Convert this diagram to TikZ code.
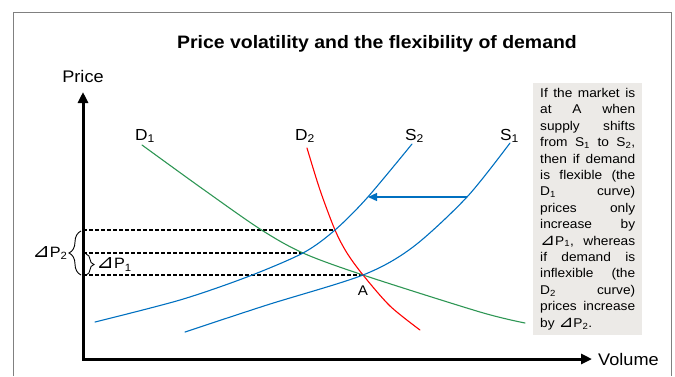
\documentclass[tikz,border=0pt]{standalone}
\usepackage{fontspec}
\setmainfont{Liberation Sans}[FakeStretch=1.08]
\newfontfamily\trifont{DejaVu Sans}[FakeStretch=1.08]
\usetikzlibrary{arrows.meta,calc,decorations.pathreplacing}
\definecolor{supplyblue}{RGB}{0,112,192}
\definecolor{demandgreen}{RGB}{46,150,84}
\definecolor{notegrey}{RGB}{236,234,231}
\newcommand{\dP}{\scalebox{1.3}{\trifont ⊿}P}
\newcommand{\jline}[1]{\makebox[95pt][s]{#1}}

\begin{document}
\begin{tikzpicture}[x=1pt, y=-1pt, >={Triangle[length=11pt,width=10pt]},
    curve/.style={line width=1.1pt, line cap=round},
    guide/.style={line width=1.2pt, dash pattern=on 4pt off 2pt},
    axis/.style={line width=3pt},
    bracelbl/.style={font=\fontsize{15}{18}\selectfont, inner sep=0pt},
    curvelbl/.style={font=\fontsize{16}{19}\selectfont, inner sep=0pt, anchor=base west},
    note/.style={fill=notegrey, inner xsep=7pt, inner ysep=5pt, align=left,
        font=\fontsize{12.7}{16.4}\selectfont}]
    \useasboundingbox (0,0) rectangle (675,376);
    \draw[gray, line width=0.8pt] (13,376) -- (13,12) -- (671,12) -- (671,376);
    \node[font=\bfseries\fontsize{18}{21}\selectfont, anchor=base] (title) at (377,48)
        {Price volatility and the flexibility of demand};

    % Achsen
    \coordinate (O) at (83,359);
    \coordinate (ytop) at (83,92);
    \coordinate (xend) at (592,359);
    \draw[axis, <->] (ytop) -- (O) -- (xend);
    \node[font=\fontsize{16.8}{20}\selectfont, anchor=base] (price) at (83,82) {Price};
    \node[font=\fontsize{16.8}{20}\selectfont, anchor=base west, inner sep=0pt] (volume) at (598,365) {Volume};

    % Schnittpunkte
    \coordinate (A) at (363,275);
    \coordinate (B) at (303,253);
    \coordinate (C) at (335,230);
    \draw[guide] (A -| O) -- (A);
    \draw[guide] (B -| O) -- (B);
    \draw[guide] (C -| O) -- (C);

    % Kurven
    \draw[curve, demandgreen] plot[smooth] coordinates
        {(142,145) (200,187) (260,229) (B) (A) (480,312) (525,323)};
    \draw[curve, red] plot[smooth] coordinates
        {(307,148) (320,190) (C) (347,253) (A) (390,306) (420,330)};
    \draw[curve, supplyblue] plot[smooth] coordinates
        {(95,322) (180,300) (247,277) (B) (C) (367,198) (412,144)};
    \draw[curve, supplyblue] plot[smooth] coordinates
        {(185,332) (267,305) (A) (413,247) (467,197) (510,143)};
    \coordinate (s1mid) at (467,197);
    \coordinate (s2mid) at (368,197);
    \draw[supplyblue, line width=1.3pt, -{Triangle[length=9pt,width=8pt]}] (s1mid) -- (s2mid);

    \node[curvelbl] (d1) at (135,140) {D\textsubscript{1}};
    \node[curvelbl] (d2) at (295,140) {D\textsubscript{2}};
    \node[curvelbl] (s2) at (405,140) {S\textsubscript{2}};
    \node[curvelbl] (s1) at (500,140) {S\textsubscript{1}};
    \node[font=\fontsize{14}{17}\selectfont, anchor=base, inner sep=0pt] (a) at (363,295) {A};

    % Preisaenderungen
    \draw[line width=0.9pt, decorate, decoration={brace, amplitude=12pt}] ($(O |- A)+(-2,0)$) -- ($(O |- C)+(-2,1)$)
        node[midway, left=13pt, bracelbl] (dp2) {\dP\textsubscript{2}};
    \draw[line width=0.9pt, decorate, decoration={brace, amplitude=8pt}] ($(O |- B)+(3,1)$) -- ($(O |- A)+(3,0)$)
        node[midway, right=10pt, bracelbl] (dp1) {\dP\textsubscript{1}};

    \node[note, anchor=north west] (note) at (533,83) {%
        \jline{If the market is}\\
        \jline{at A when}\\
        \jline{supply shifts}\\
        \jline{from S\textsubscript{1} to S\textsubscript{2},}\\
        \jline{then if demand}\\
        \jline{is flexible (the}\\
        \jline{D\textsubscript{1} curve)}\\
        \jline{prices only}\\
        \jline{increase by}\\
        \jline{\dP\textsubscript{1}, whereas}\\
        \jline{if demand is}\\
        \jline{inflexible (the}\\
        \jline{D\textsubscript{2} curve)}\\
        \jline{prices increase}\\
        by \dP\textsubscript{2}.};
\end{tikzpicture}
\end{document}
